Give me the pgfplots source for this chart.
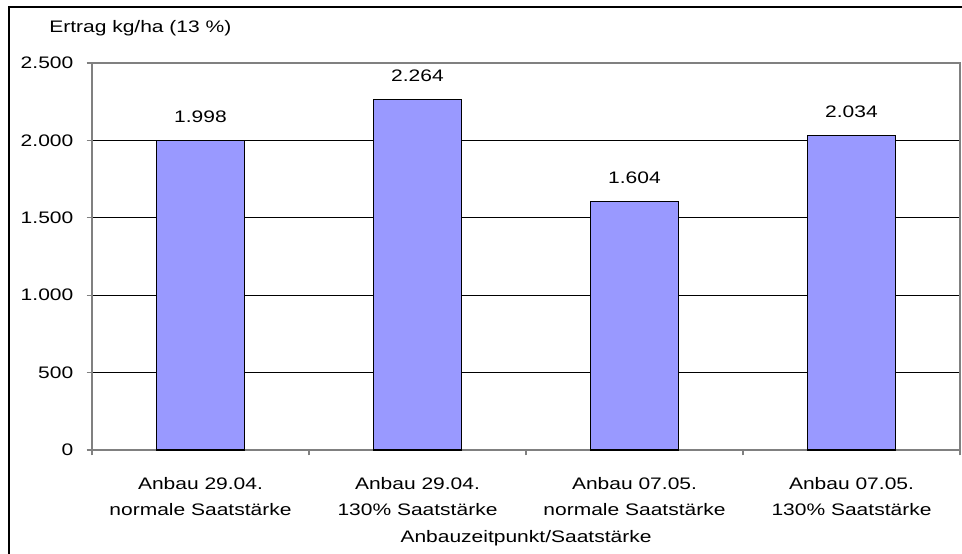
\documentclass[border=0pt]{standalone}
\usepackage{fontspec}
\setmainfont[FakeStretch=1.26]{Liberation Sans}
\usepackage{pgfplots}
\pgfplotsset{compat=1.18}
\definecolor{barblue}{HTML}{9999FF}
\definecolor{axgray}{HTML}{808080}
\begin{document}
\begin{tikzpicture}[font=\fontsize{12.5}{14}\selectfont]
\useasboundingbox (0pt,0pt) rectangle (721.5pt,414.75pt);
\draw[black, line width=1.1pt] (6.75pt,-20pt) -- (6.75pt,409.5pt) -- (740pt,409.5pt);
\node[anchor=west, inner sep=0] at (36.75pt,393.75pt) {Ertrag kg/ha (13 \%)};
\begin{axis}[
  at={(69pt,77.25pt)}, anchor=south west,
  scale only axis, width=651pt, height=290.25pt,
  xmin=-0.5, xmax=3.5, ymin=0, ymax=2500,
  ytick={0,500,...,2500},
  xtick={0,1,2,3},
  xticklabels={{Anbau 29.04.\\normale Saatstärke},{Anbau 29.04.\\130\% Saatstärke},{Anbau 07.05.\\normale Saatstärke},{Anbau 07.05.\\130\% Saatstärke}},
  xticklabel style={align=center, font=\fontsize{12.5}{19.5}\selectfont, yshift=-13pt},
  minor xtick={-0.5,0.5,1.5,2.5,3.5},
  major x tick style={draw=none},
  minor tick length=4pt, major tick length=4pt,
  tick align=outside,
  xtick pos=bottom, ytick pos=left,
  ymajorgrids, grid style={black, line width=0.6pt},
  axis line style={axgray, line width=0.8pt},
  tick style={axgray, line width=0.8pt},
  /pgf/number format/.cd, 1000 sep={.}, assume math mode=true, /pgfplots/.cd,
  yticklabel style={xshift=-6.5pt},
  xlabel={Anbauzeitpunkt/Saatstärke},
  xlabel style={at={(axis description cs:0.5,0)}, anchor=center, yshift=-66pt},
  ybar, bar width=66pt,
  nodes near coords,
  nodes near coords style={anchor=south, inner sep=0pt, yshift=13pt, font=\fontsize{12.5}{14}\selectfont},
]
\addplot[fill=barblue, draw=black, line width=0.8pt] coordinates {(0,1998) (1,2264) (2,1604) (3,2034)};
\end{axis}
\end{tikzpicture}
\end{document}
